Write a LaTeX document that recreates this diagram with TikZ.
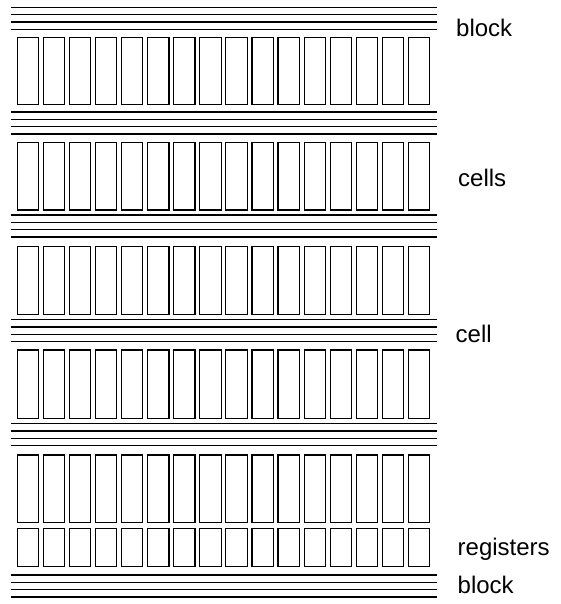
\documentclass[tikz,border=0pt]{standalone}
\usepackage{fontspec}
\setmainfont{Liberation Sans}
\tikzset{
  busline/.style={line width=1.25pt},
  cellbox/.style={draw,line width=1.15pt},
  lbl/.style={anchor=base west,inner sep=0pt,font=\fontsize{24}{28}\selectfont}
}
\begin{document}
\begin{tikzpicture}[x=1pt,y=-1pt]
  \useasboundingbox (0,0) rectangle (560,604);
  % four bus lines above and below every block
  \foreach \g in {7.3,112,215,319.7,423.7,575}
    \foreach \i in {0,...,3}
      \draw[busline] (11,\g+7.35*\i) -- (437,\g+7.35*\i);
  % sixteen cells per row, last row are the registers
  \foreach \ya/\yb in {37.3/104.3,142.3/210,246.7/314.3,350/418.3,455/522.7,528.3/566.7}
    \foreach \j in {0,...,15}
      \draw[cellbox] (17.3+26.07*\j,\ya) rectangle ++(21.3,\yb-\ya);
  \node[lbl] (blocktop) at (456,36.7) {block};
  \node[lbl] (cells) at (458,186.7) {cells};
  \node[lbl] (cell) at (455.5,342.7) {cell};
  \node[lbl] (registers) at (457.5,555) {registers};
  \node[lbl] (blockbot) at (457.5,593.3) {block};
\end{tikzpicture}
\end{document}
